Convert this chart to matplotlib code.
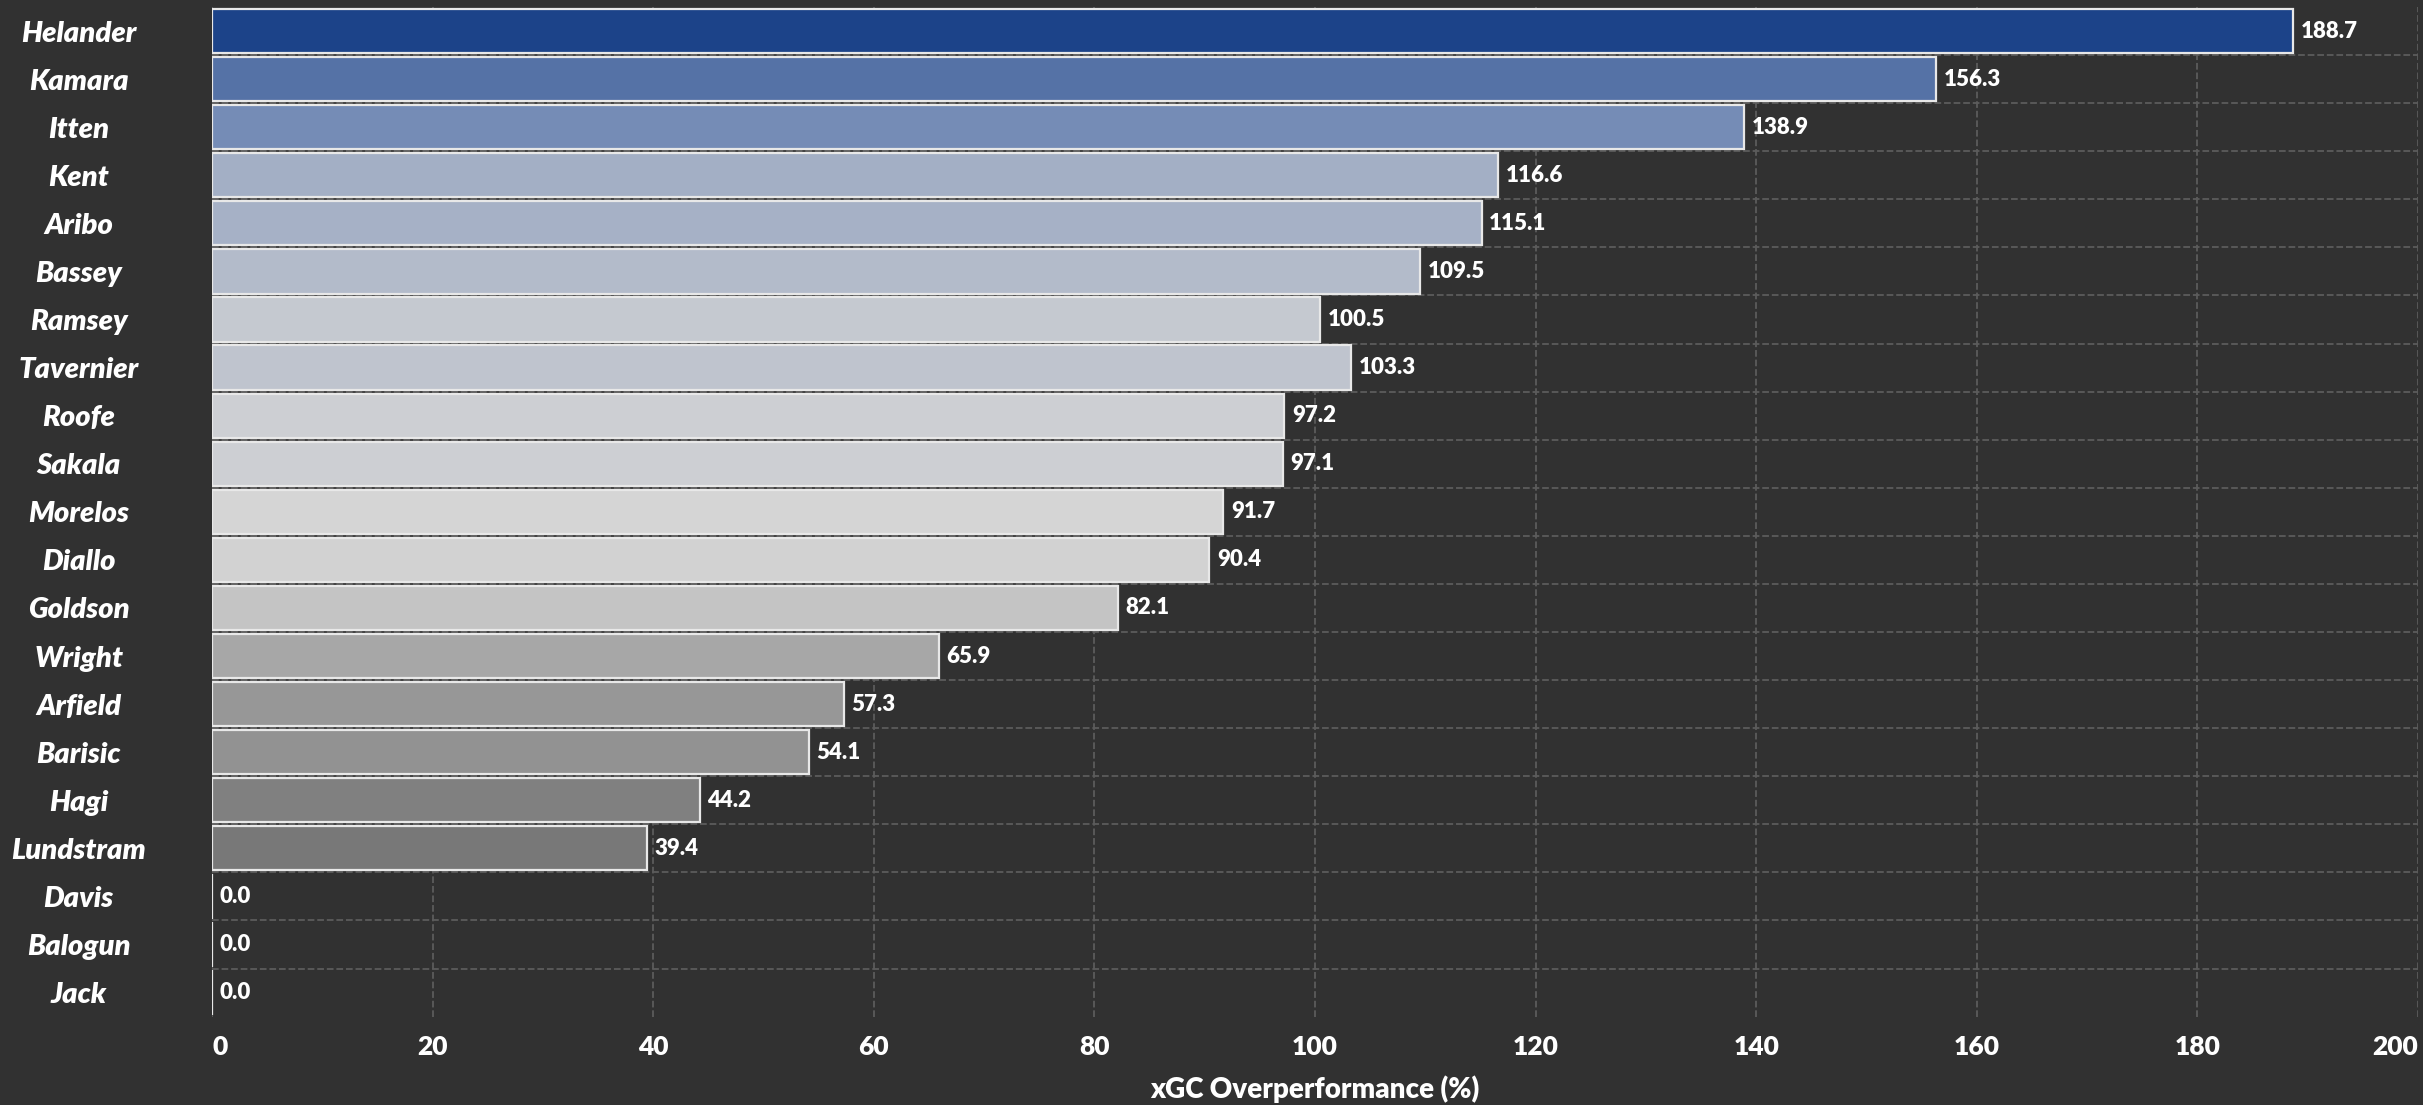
import matplotlib

matplotlib.use("Agg")
import matplotlib.pyplot as plt
from matplotlib.colors import LinearSegmentedColormap, Normalize

players = [
    "Helander", "Kamara", "Itten", "Kent", "Aribo", "Bassey", "Ramsey",
    "Tavernier", "Roofe", "Sakala", "Morelos", "Diallo", "Goldson", "Wright",
    "Arfield", "Barisic", "Hagi", "Lundstram", "Davis", "Balogun", "Jack",
]
overperf = [
    188.7, 156.3, 138.9, 116.6, 115.1, 109.5, 100.5,
    103.3, 97.2, 97.1, 91.7, 90.4, 82.1, 65.9,
    57.3, 54.1, 44.2, 39.4, 0.0, 0.0, 0.0,
]
xticks = [0, 20, 40, 60, 80, 100, 120, 140, 160, 180, 200]

BG = "#313131"
FONT = "Lato"
cmap = LinearSegmentedColormap.from_list(
    "gray_blue", [(0.0, "#333333"), (0.49, "#d6d6d6"), (0.75, "#7088b4"), (1.0, "#1c4389")]
)
norm = Normalize(vmin=0, vmax=max(overperf))

fig = plt.figure(figsize=(24.23, 11.05), dpi=100, facecolor=BG)
ax = fig.add_axes([0.0875, 0.080, 0.9104, 0.9137], facecolor=BG)

ypos = list(range(len(players)))
colors = [cmap(norm(v)) for v in overperf]
ax.barh(ypos, overperf, height=0.92, color=colors, edgecolor="#e8e8e8",
        linewidth=1.6, zorder=3)

for y, v in zip(ypos, overperf):
    ax.text(v + 0.7, y, f"{v:.1f}", va="center", ha="left", color="white",
            fontsize=16, fontweight=800, family=FONT, zorder=4)

ax.set_ylim(len(players) - 0.5, -0.5)
ax.set_xlim(0, 200)
ax.set_xticks(xticks)
ax.set_xticklabels([str(t) for t in xticks], color="white", fontsize=19,
                   fontweight=800, family=FONT)
xlabs = ax.get_xticklabels()
xlabs[0].set_horizontalalignment("left")
xlabs[-1].set_horizontalalignment("right")
ax.set_yticks(ypos)
ax.set_yticklabels(players, color="white", fontsize=21, fontweight=800,
                   fontstyle="italic", family=FONT)
for lab in ax.get_yticklabels():
    lab.set_horizontalalignment("center")
ax.tick_params(axis="y", length=0, pad=96)
ax.tick_params(axis="x", length=0, pad=13)
ax.set_yticks([y + 0.5 for y in ypos[:-1]], minor=True)
ax.tick_params(axis="y", which="minor", length=0)

ax.grid(axis="x", which="major", color="#5c5c5c", linestyle="--", linewidth=1.3, zorder=0)
ax.grid(axis="y", which="minor", color="#5c5c5c", linestyle="--", linewidth=1.3, zorder=0)
ax.set_axisbelow(True)
for s in ax.spines.values():
    s.set_visible(False)

ax.set_xlabel("xGC Overperformance (%)", color="white", fontsize=20,
              fontweight=800, family=FONT, labelpad=12)

fig.savefig("out.png", dpi=100, facecolor=BG)
